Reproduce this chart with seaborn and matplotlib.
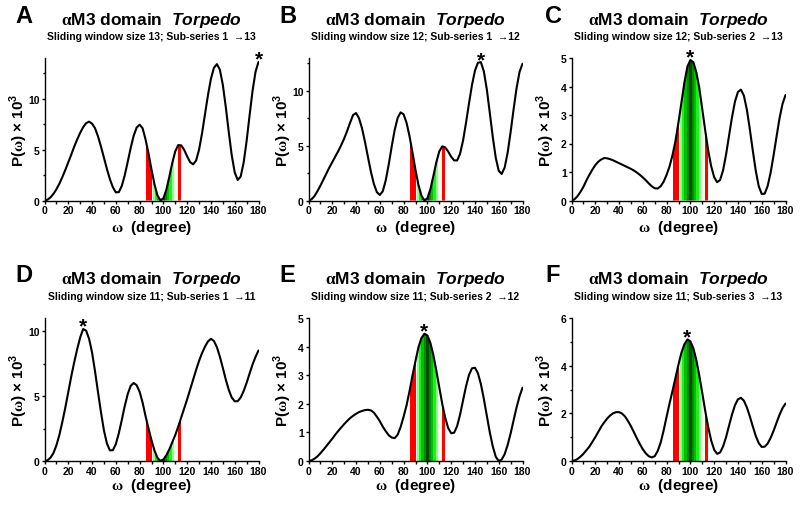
"""
Periodogram panels P(omega) for the alphaM3 domain of Torpedo,
six sliding-window sub-series (A-F).
"""
import pandas as pd
import matplotlib
matplotlib.use("Agg")
import matplotlib.pyplot as plt
from matplotlib.ticker import MultipleLocator
import seaborn as sns

# -------- Data (every 2.5 degrees) --------
omega = [0, 2.5, 5, 7.5, 10, 12.5, 15, 17.5, 20, 22.5, 25, 27.5, 30, 32.5, 35, 37.5,
         40, 42.5, 45, 47.5, 50, 52.5, 55, 57.5, 60, 62.5, 65, 67.5, 70, 72.5, 75, 77.5,
         80, 82.5, 85, 87.5, 90, 92.5, 95, 97.5, 100, 102.5, 105, 107.5, 110, 112.5,
         115, 117.5, 120, 122.5, 125, 127.5, 130, 132.5, 135, 137.5, 140, 142.5, 145,
         147.5, 150, 152.5, 155, 157.5, 160, 162.5, 165, 167.5, 170, 172.5, 175, 177.5, 180]

p_a = [0, 0.08, 0.3, 0.65, 1.1, 1.65, 2.3, 3.0, 3.75, 4.5, 5.3, 6.0, 6.65, 7.2, 7.6, 7.75,
       7.55, 7.1, 6.3, 5.3, 4.2, 3.1, 2.1, 1.3, 0.8, 0.82, 1.43, 2.48, 3.8, 5.17, 6.36, 7.17,
       7.45, 7.1, 6.0, 4.6, 3.05, 1.6, 0.5, 0.02, 0.22, 1.06, 2.34, 3.7, 4.84, 5.44,
       5.42, 4.97, 4.33, 3.77, 3.55, 3.92, 4.99, 6.59, 8.48, 10.36, 11.96, 13.03, 13.4,
       12.86, 11.36, 9.17, 6.71, 4.43, 2.76, 2.02, 2.35, 3.71, 5.85, 8.36, 10.78, 12.64, 13.61]

p_b = [0, 0.1, 0.4, 0.85, 1.35, 1.9, 2.45, 3.0, 3.5, 4.0, 4.5, 5.05, 5.65, 6.35, 7.1, 7.8,
       7.98, 7.5, 6.59, 5.35, 3.97, 2.62, 1.51, 0.76, 0.5, 0.85, 1.85, 3.3, 4.93, 6.44, 7.54, 8.04,
       7.86, 7.08, 5.85, 4.35, 2.78, 1.41, 0.44, 0.01, 0.21, 1.02, 2.22, 3.48, 4.48, 4.94,
       4.84, 4.47, 3.99, 3.66, 3.65, 4.27, 5.47, 7.09, 8.86, 10.53, 11.84, 12.57, 12.62,
       11.77, 10.13, 7.99, 5.79, 3.9, 2.71, 2.42, 3.01, 4.36, 6.24, 8.31, 10.25, 11.72, 12.48]

p_c = [0, 0.04, 0.15, 0.3, 0.48, 0.7, 0.9, 1.08, 1.24, 1.36, 1.44, 1.49, 1.48, 1.45, 1.41, 1.36,
       1.31, 1.26, 1.21, 1.16, 1.11, 1.05, 0.98, 0.9, 0.81, 0.71, 0.6, 0.5, 0.43, 0.42, 0.5, 0.66,
       0.9, 1.2, 1.6, 2.1, 2.75, 3.45, 4.15, 4.7, 4.93, 4.85, 4.5, 3.95, 3.2, 2.45,
       1.75, 1.2, 0.82, 0.64, 0.72, 1.06, 1.61, 2.27, 2.92, 3.47, 3.81, 3.89, 3.68,
       3.19, 2.5, 1.75, 1.04, 0.5, 0.23, 0.24, 0.51, 0.98, 1.59, 2.25, 2.89, 3.39, 3.7]

p_d = [0, 0.05, 0.25, 0.6, 1.2, 2.0, 3.0, 4.1, 5.3, 6.5, 7.6, 8.6, 9.5, 10.15, 10.03, 9.4,
       8.35, 6.9, 5.3, 3.75, 2.35, 1.35, 0.82, 0.83, 1.3, 2.13, 3.15, 4.23, 5.15, 5.78, 6.0, 5.83,
       5.33, 4.5, 3.45, 2.5, 1.6, 0.81, 0.25, 0.01, 0.12, 0.45, 0.9, 1.45, 2.0, 2.65,
       3.35, 4.05, 4.75, 5.5, 6.25, 7.0, 7.7, 8.3, 8.8, 9.2, 9.4, 9.23, 8.76,
       8.03, 7.16, 6.26, 5.47, 4.88, 4.59, 4.6, 4.88, 5.38, 6.01, 6.73, 7.42, 8.01, 8.5]

p_e = [0, 0.02, 0.08, 0.16, 0.27, 0.39, 0.52, 0.65, 0.78, 0.92, 1.05, 1.17, 1.29, 1.4, 1.5, 1.58,
       1.65, 1.71, 1.75, 1.78, 1.79, 1.77, 1.69, 1.55, 1.39, 1.2, 1.04, 0.9, 0.82, 0.8, 0.92, 1.19,
       1.55, 1.95, 2.45, 3.0, 3.5, 3.98, 4.3, 4.45, 4.39, 4.13, 3.71, 3.17, 2.58, 2.0,
       1.51, 1.15, 0.97, 0.99, 1.22, 1.62, 2.12, 2.61, 3.01, 3.24, 3.26, 3.07, 2.69,
       2.17, 1.58, 1.0, 0.51, 0.15, 0.0, 0.05, 0.24, 0.56, 0.96, 1.42, 1.87, 2.26, 2.56]

p_f = [0, 0.02, 0.08, 0.18, 0.3, 0.45, 0.6, 0.8, 1.0, 1.22, 1.44, 1.62, 1.78, 1.91, 2.0, 2.05,
       2.05, 1.99, 1.87, 1.68, 1.46, 1.21, 0.95, 0.71, 0.49, 0.32, 0.2, 0.15, 0.2, 0.42, 0.77, 1.28,
       1.86, 2.42, 2.95, 3.5, 4.05, 4.55, 4.9, 5.1, 5.02, 4.73, 4.24, 3.58, 2.85, 2.1,
       1.42, 0.86, 0.47, 0.3, 0.36, 0.61, 1.0, 1.48, 1.95, 2.34, 2.59, 2.65, 2.53,
       2.25, 1.87, 1.45, 1.05, 0.75, 0.59, 0.6, 0.73, 0.97, 1.27, 1.61, 1.94, 2.22, 2.41]

panel_letters = ["A", "B", "C", "D", "E", "F"]
window_sizes = [13, 12, 12, 11, 11, 11]
sub_start = [1, 1, 2, 1, 2, 3]
sub_end = [13, 12, 13, 11, 12, 13]
star_omega = [180, 145, 100, 32.5, 97.5, 97.5]   # peak marked with *
y_max = [14, 13, 5, 11, 5, 6]
y_major = [5, 5, 1, 5, 1, 2]
y_minor = [2.5, 2.5, None, 2.5, None, 1]

# shaded omega window: red edges, green gradient around 100 deg
band_edges = [(85, 90), (90, 91.5), (91.5, 93), (93, 95), (95, 97), (97, 99), (99, 101),
              (101, 103), (103, 105), (105, 107), (107, 109), (109, 112), (112, 115)]
band_colors = ["#ff0000", "#f2ffe8", "#8cff8c", "#1ef01e", "#00c000", "#008a00", "#004a00",
               "#008a00", "#00c000", "#1ef01e", "#8cff8c", "#f2ffe8", "#ff0000"]

powers = [p_a, p_b, p_c, p_d, p_e, p_f]

# -------- Style --------
sns.set_style("ticks")
plt.rcParams["font.family"] = ["Liberation Sans", "DejaVu Sans"]
plt.rcParams["font.weight"] = "bold"
plt.rcParams["text.color"] = "black"
plt.rcParams["mathtext.fontset"] = "custom"
plt.rcParams["mathtext.rm"] = "Liberation Serif"
plt.rcParams["mathtext.bf"] = "Liberation Sans:bold"
plt.rcParams["mathtext.bfit"] = "Liberation Sans:bold:italic"

W, H = 800, 506
fig = plt.figure(figsize=(W / 100, H / 100), dpi=100)

# axes boxes in pixels
lefts = [44.5, 308.5, 571.5]
rows = [(59.0, 201.5), (319.0, 462.0)]   # top, bottom
title_base = [25, 284.5]
sub_base = [40, 299.5]
xlabel_base = [232, 490]
letter_x = [15, 279, 545]
AX_W = 214


def fx(px):
    return px / W


def fy(py):
    return 1 - py / H


for i in range(6):
    r, c = divmod(i, 3)
    top, bot = rows[r]
    left = lefts[c]
    ax = fig.add_axes([fx(left), fy(bot), AX_W / W, (bot - top) / H])

    df = pd.DataFrame({"omega": omega, "P": powers[i]})

    # area under the curve, used as clip path for the shaded bands
    under = ax.fill_between(df["omega"], df["P"], 0, color="none", lw=0)
    clip = under.get_paths()[0]
    for (a, b), col in zip(band_edges, band_colors):
        span = ax.axvspan(a, b, color=col, lw=0, zorder=1)
        span.set_clip_path(clip, ax.transData)

    sns.lineplot(data=df, x="omega", y="P", ax=ax, color="black", lw=1.5, zorder=3)

    ax.set_xlim(0, 180)
    ax.set_ylim(0, y_max[i])
    ax.xaxis.set_major_locator(MultipleLocator(20))
    ax.xaxis.set_minor_locator(MultipleLocator(10))
    ax.yaxis.set_major_locator(MultipleLocator(y_major[i]))
    if y_minor[i]:
        ax.yaxis.set_minor_locator(MultipleLocator(y_minor[i]))
    ax.tick_params(which="major", length=2.5, width=1, pad=1.0, labelsize=7.5,
                   color="black", labelcolor="black")
    ax.tick_params(which="minor", length=1.8, width=1, color="black")
    ax.set_xlabel("")
    ax.set_ylabel("")
    sns.despine(ax=ax)
    for s in ["left", "bottom"]:
        ax.spines[s].set_linewidth(1.0)
        ax.spines[s].set_color("black")
    for lab in ax.get_xticklabels() + ax.get_yticklabels():
        lab.set_fontweight("bold")

    # y label
    ax.text(-26 / AX_W, 0.5, r"P($\mathrm{\omega}$) × 10$^{\mathbf{3}}$", rotation=90,
            ha="center", va="center", transform=ax.transAxes, fontsize=11, fontweight="bold")

    # peak asterisk
    k = omega.index(star_omega[i])
    ax.annotate("*", xy=(star_omega[i], powers[i][k]), xytext=(0, -2),
                textcoords="offset points", ha="center", va="baseline",
                fontsize=15, fontweight="bold", annotation_clip=False)

    xc = fx(left + AX_W / 2)
    fig.text(xc, fy(title_base[r]), r"$\mathrm{\alpha}$M3 domain  $\mathbfit{Torpedo}$",
             ha="center", va="baseline", fontsize=12.5, fontweight="bold")
    fig.text(xc, fy(sub_base[r]),
             f"Sliding window size {window_sizes[i]}; Sub-series {sub_start[i]}  →{sub_end[i]}",
             ha="center", va="baseline", fontsize=7.5, fontweight="bold")
    fig.text(xc, fy(xlabel_base[r]), r"$\mathrm{\omega}$  (degree)",
             ha="center", va="baseline", fontsize=11, fontweight="bold")
    fig.text(fx(letter_x[c]), fy(title_base[r] - 2), panel_letters[i],
             ha="left", va="baseline", fontsize=17, fontweight="bold")

fig.savefig("out.png", dpi=100)
